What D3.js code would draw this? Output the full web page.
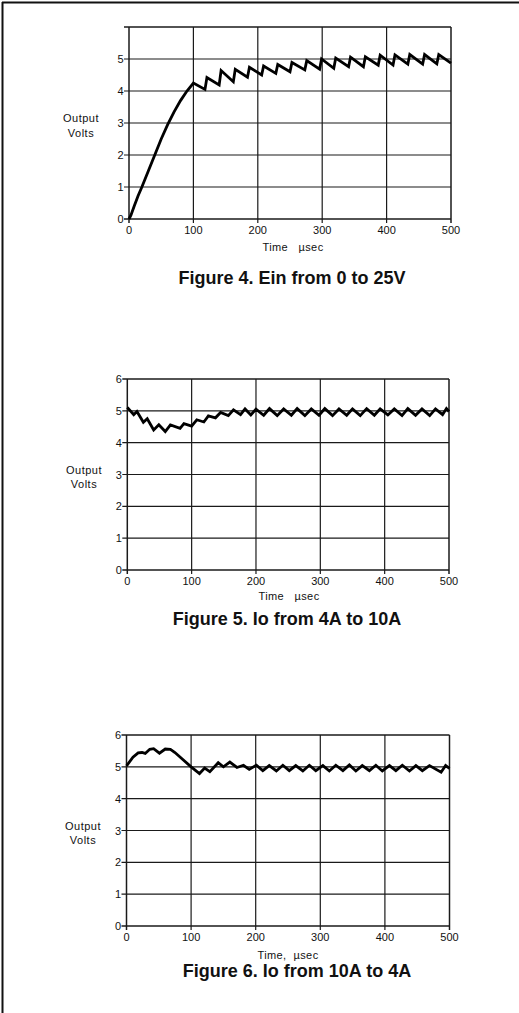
<!DOCTYPE html>
<html><head><meta charset="utf-8">
<script src="https://cdn.jsdelivr.net/npm/d3@7"></script>
<style>
body{margin:0;background:#fff}
svg{display:block}
text{font-family:"Liberation Sans",Arial,Helvetica,sans-serif;fill:#111}
</style>
</head><body>
<svg id="c" width="519" height="1013"></svg>
<script>
// ---------- data ----------
const xTicks = [0, 100, 200, 300, 400, 500];
const yTicks = [0, 1, 2, 3, 4, 5, 6];
const titles = ["Figure 4. Ein from 0 to 25V", "Figure 5. Io from 4A to 10A", "Figure 6. Io from 10A to 4A"];
const xAxisTitles = ["Time   \u00b5sec", "Time   \u00b5sec", "Time,  \u00b5sec"];
const yAxisTitle = ["Output", "Volts"];

const fig4Time  = [0,3,8,14,20,30,40,50,60,70,80,90,100,
  118,121,140,143,162,165,184,187,206,209,228,231,250,253,273,276,296,299,318,321,341,344,364,367,387,390,410,413,433,436,456,459,478,481,500];
const fig4Volts = [0,0.12,0.4,0.72,1.0,1.5,2.0,2.5,2.95,3.35,3.7,4.0,4.25,
  4.05,4.42,4.19,4.64,4.29,4.68,4.43,4.74,4.5,4.78,4.55,4.83,4.6,4.89,4.66,4.95,4.68,5.0,4.71,5.03,4.76,5.06,4.76,5.07,4.81,5.12,4.81,5.13,4.84,5.14,4.84,5.14,4.85,5.14,4.87];

const fig5Time  = [0,10,15,25,31,41,49,59,67,82,88,100,108,119,126,137,145,157,165,176,183,192,200,
  212,221,233,243,255,264,276,286,298,307,319,329,341,350,362,372,384,393,405,415,427,436,448,458,470,479,490,496,500];
const fig5Volts = [5.11,4.88,4.98,4.64,4.75,4.4,4.56,4.35,4.56,4.45,4.6,4.52,4.72,4.65,4.84,4.78,4.95,4.85,5.03,4.88,5.06,4.87,5.05,
  4.86,5.07,4.85,5.06,4.86,5.07,4.85,5.06,4.86,5.07,4.85,5.06,4.86,5.06,4.85,5.07,4.86,5.06,4.87,5.06,4.85,5.07,4.86,5.06,4.85,5.06,4.88,5.07,4.98];

const fig6Time  = [0,10,18,24,29,36,42,51,60,68,75,100,113,121,129,142,150,160,171,181,190,201,
  211,221,232,242,252,262,273,283,293,304,314,324,335,345,355,365,376,386,396,407,417,427,438,448,458,469,487,494,500];
const fig6Volts = [5.03,5.3,5.44,5.45,5.42,5.55,5.57,5.43,5.56,5.55,5.45,5.0,4.79,4.96,4.85,5.13,5.0,5.15,4.98,5.05,4.92,5.05,
  4.88,5.04,4.87,5.05,4.88,5.04,4.87,5.05,4.88,5.04,4.87,5.05,4.88,5.06,4.87,5.04,4.88,5.05,4.87,5.04,4.88,5.05,4.87,5.04,4.88,5.04,4.83,5.04,4.95];

// ---------- layout ----------
const panels = [
  {t: fig4Time, v: fig4Volts, x0:129, x1:451, yb:219, yt:27, label6:false, titleX:292, titleY:284, timeX:293, timeY:251, ylabX:81},
  {t: fig5Time, v: fig5Volts, x0:127.3, x1:449, yb:570, yt:379, label6:true, titleX:287, titleY:625, timeX:289, timeY:600, ylabX:84},
  {t: fig6Time, v: fig6Volts, x0:126.5, x1:449.5, yb:926, yt:735, label6:true, titleX:297, titleY:977, timeX:288, timeY:959, ylabX:83}
];

const svg = d3.select("#c");
// outer frame (left and top rules)
svg.append("line").attr("x1",2.5).attr("x2",2.5).attr("y1",2).attr("y2",1013).attr("stroke","#111").attr("stroke-width",2);
svg.append("line").attr("x1",2).attr("x2",519).attr("y1",2.5).attr("y2",2.5).attr("stroke","#111").attr("stroke-width",2);

panels.forEach((p, i) => {
  const x = d3.scaleLinear().domain([0, 500]).range([p.x0, p.x1]);
  const y = d3.scaleLinear().domain([0, 6]).range([p.yb, p.yt]);
  const g = svg.append("g");

  // horizontal grid + y ticks
  g.selectAll("line.h").data(yTicks).join("line")
    .attr("x1", p.x0 - 5).attr("x2", p.x1)
    .attr("y1", d => y(d)).attr("y2", d => y(d))
    .attr("stroke", "#1a1a1a").attr("stroke-width", d => (d === 0 || d === 6) ? 1.5 : 1.2);
  // vertical grid + x ticks
  g.selectAll("line.v").data(xTicks).join("line")
    .attr("x1", d => x(d)).attr("x2", d => x(d))
    .attr("y1", p.yt).attr("y2", p.yb + 4)
    .attr("stroke", "#1a1a1a").attr("stroke-width", d => (d === 0 || d === 500) ? 1.5 : 1.2);

  // y tick labels
  g.selectAll("text.yl").data(yTicks.filter(d => p.label6 || d < 6)).join("text")
    .attr("x", p.x0 - 5.5).attr("y", d => y(d) + 4)
    .attr("text-anchor", "end").attr("font-size", 11).text(d => d);
  // x tick labels
  g.selectAll("text.xl").data(xTicks).join("text")
    .attr("x", d => x(d)).attr("y", p.yb + 15)
    .attr("text-anchor", "middle").attr("font-size", 11).text(d => d);

  // axis titles
  g.append("text").attr("x", p.timeX).attr("y", p.timeY).attr("text-anchor", "middle")
    .attr("font-size", 11).style("white-space", "pre").attr("letter-spacing", 0.4).text(xAxisTitles[i]);
  g.append("text").attr("x", p.ylabX).attr("y", y(3) - 1).attr("text-anchor", "middle")
    .attr("font-size", 11).attr("letter-spacing", 0.5).text(yAxisTitle[0]);
  g.append("text").attr("x", p.ylabX).attr("y", y(3) + 13.5).attr("text-anchor", "middle")
    .attr("font-size", 11).attr("letter-spacing", 0.5).text(yAxisTitle[1]);

  // figure title
  g.append("text").attr("x", p.titleX).attr("y", p.titleY).attr("text-anchor", "middle")
    .attr("font-size", 18).attr("font-weight", "bold").text(titles[i]);

  // curve
  const pts = p.t.map((t, k) => [t, p.v[k]]);
  g.append("path").datum(pts)
    .attr("d", d3.line().x(d => x(d[0])).y(d => y(d[1])))
    .attr("fill", "none").attr("stroke", "#000").attr("stroke-width", 2.8)
    .attr("stroke-linejoin", "miter").attr("stroke-miterlimit", 3);
});
</script>
</body></html>
